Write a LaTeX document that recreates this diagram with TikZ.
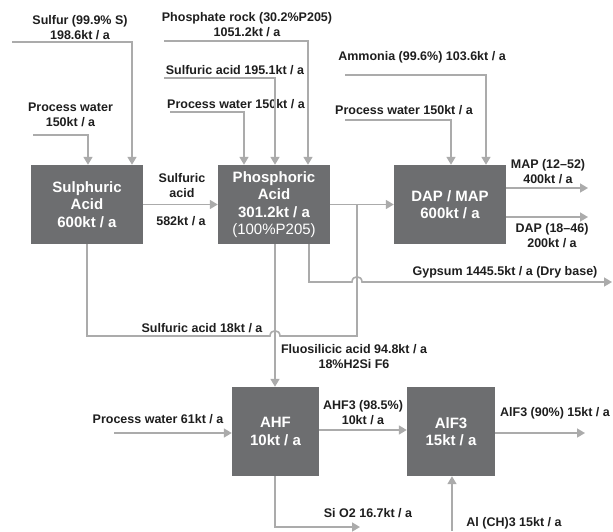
\documentclass[tikz,border=0pt]{standalone}
\usepackage{fontspec}
\setmainfont{Liberation Sans}
\usetikzlibrary{arrows.meta}
\definecolor{boxgray}{HTML}{6D6E70}
\definecolor{linegray}{HTML}{ABABAB}
\definecolor{txt}{HTML}{1E1E1E}
\begin{document}
\begin{tikzpicture}[x=1pt,y=-1pt,
 box/.style={fill=boxgray,draw=none,text=white,font=\fontsize{15}{17.5}\selectfont\bfseries,align=center,inner sep=0pt},
 lbl/.style={text=txt,font=\fontsize{12.5}{15}\selectfont\bfseries,align=center,inner sep=0pt},
 conn/.style={draw=linegray,line width=1.6pt},
 arr/.style={conn,-{Triangle[width=9pt,length=8pt]}},
]
\useasboundingbox (0,0) rectangle (613,531);
% boxes
\node[box,minimum width=112pt,minimum height=79pt] (sa) at (87,204.5) {Sulphuric\\Acid\\600kt / a};
\node[box,minimum width=112pt,minimum height=79pt] (pa) at (274,204.5) {Phosphoric\\Acid\\301.2kt / a\\\mdseries(100\%P205)};
\node[box,minimum width=112pt,minimum height=79pt] (dm) at (450,204.5) {DAP / MAP\\600kt / a};
\node[box,minimum width=87pt,minimum height=89pt] (ahf) at (275.5,431.5) {AHF\\10kt / a};
\node[box,minimum width=88pt,minimum height=89pt] (alf) at (451,431.5) {AlF3\\15kt / a};
% labels
\node[lbl] (lSul) at (80,27.5) {Sulfur (99.9\% S)\\198.6kt / a};
\node[lbl] (lPw1) at (70.5,114.5) {Process water\\150kt / a};
\node[lbl] (lPr) at (247,25) {Phosphate rock (30.2\%P205)\\1051.2kt / a};
\node[lbl] (lSa195) at (235,70) {Sulfuric acid 195.1kt / a};
\node[lbl] (lPw2) at (236,104) {Process water 150kt / a};
\node[lbl] (lAm) at (422,57) {Ammonia (99.6\%) 103.6kt / a};
\node[lbl] (lPw3) at (404,110) {Process water 150kt / a};
\node[lbl] (lSa1) at (182,186) {Sulfuric\\acid};
\node[lbl] (l582) at (181,221) {582kt / a};
\node[lbl] (lMap) at (548,172) {MAP (12--52)\\400kt / a};
\node[lbl] (lDap) at (552,236) {DAP (18--46)\\200kt / a};
\node[lbl] (lGyp) at (505,272) {Gypsum 1445.5kt / a (Dry base)};
\node[lbl] (l18) at (202,328) {Sulfuric acid 18kt / a};
\node[lbl] (lFl) at (354,356.5) {Fluosilicic acid 94.8kt / a\\18\%H2Si F6};
\node[lbl] (lPw61) at (158,419) {Process water 61kt / a};
\node[lbl] (lAhf3) at (363,413) {AHF3 (98.5\%)\\10kt / a};
\node[lbl] (lAlf3) at (555,413) {AlF3 (90\%) 15kt / a};
\node[lbl] (lSi) at (368,513) {Si O2 16.7kt / a};
\node[lbl] (lAl) at (514,523) {Al (CH)3 15kt / a};
% coordinates
\coordinate (sulS) at (12,42);
\coordinate (pwS1) at (33,135);
\coordinate (prS) at (164,41);
\coordinate (sa195S) at (164,78);
\coordinate (pw2S) at (170,112);
\coordinate (amS) at (345,75);
\coordinate (pw3S) at (345,120);
\coordinate (mapE) at (588,188);
\coordinate (dapE) at (588,217);
\coordinate (j) at (357,204);
\coordinate (h1) at (270,336);
\coordinate (hc1) at (270,329);
\coordinate (hc2) at (280,329);
\coordinate (h2) at (280,336);
\coordinate (c18) at (357,336);
\coordinate (g1) at (352,282);
\coordinate (gc1) at (352,275);
\coordinate (gc2) at (362,275);
\coordinate (g2) at (362,282);
\coordinate (gE) at (612,282);
\coordinate (pw61S) at (114,433);
\coordinate (alfE) at (585,433);
\coordinate (siE) at (360,527);
\coordinate (alS) at (452,531);
% connectors
\draw[arr] (sulS) -| ([xshift=45pt]sa.north);
\draw[arr] (pwS1) -| ([xshift=1pt]sa.north);
\draw[arr] (prS) -| ([xshift=34pt]pa.north);
\draw[arr] (sa195S) -| ([xshift=1pt]pa.north);
\draw[arr] (pw2S) -| ([xshift=-30pt]pa.north);
\draw[arr] (amS) -| ([xshift=36pt]dm.north);
\draw[arr] (pw3S) -| ([xshift=1pt]dm.north);
\draw[arr] (sa.east) -- (pa.west);
\draw[arr] (pa.east) -- (dm.west);
\draw[arr] (dm.east |- mapE) -- (mapE);
\draw[arr] (dm.east |- dapE) -- (dapE);
\draw[conn] (sa.south) |- (h1) .. controls (hc1) and (hc2) .. (h2) -- (c18) -- (j);
\draw[arr] ([xshift=35pt]pa.south) |- (g1) .. controls (gc1) and (gc2) .. (g2) -- (gE);
\draw[arr] ([xshift=1pt]pa.south) -- ([xshift=-0.5pt]ahf.north);
\draw[arr] (pw61S) -- (pw61S -| ahf.west);
\draw[arr] ([yshift=1.5pt]ahf.east) -- ([yshift=1.5pt]alf.west);
\draw[arr] (alfE -| alf.east) -- (alfE);
\draw[arr] ([xshift=-0.5pt]ahf.south) |- (siE);
\draw[arr] (alS) -- (alS |- alf.south);
\end{tikzpicture}
\end{document}
